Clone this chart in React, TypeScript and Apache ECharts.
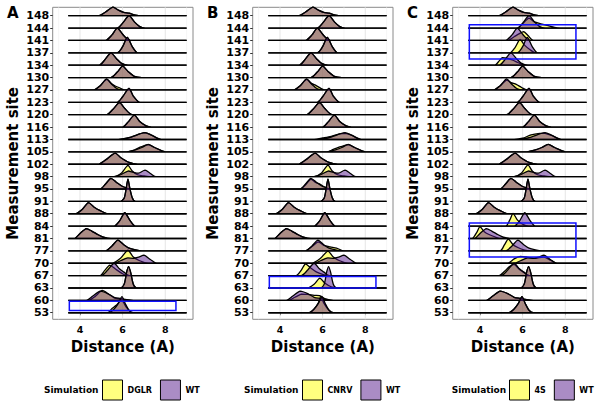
import React, { useEffect, useRef } from 'react';
import * as echarts from 'echarts';

// ---------- data ----------
const SITES = ['148','144','141','137','134','130','127','123','120','116','113','105','102','98','95','91','88','84','81','77','70','67','63','60','53'];
const PANELS = ['A', 'B', 'C'];
const MUTANTS = ['DGLR', 'CNRV', '4S'];
const DENSITY_RANGE = [3.45, 9.0];
const X_LIMITS = [2.72, 9.3];
const Y_LIMITS = [-0.53, 24.68];
const X_TICKS = [4, 6, 8];
const X_MINOR = [3, 5, 7, 9];

// density key points [distance, height in row units]
const WT: Record<string, number[][]> = {
  '148': [[4.9,0],[5.2,0.3],[5.55,0.7],[5.8,0.45],[6.05,0.27],[6.3,0.2],[6.6,0.05],[6.9,0]],
  '144': [[5.75,0],[6.0,0.4],[6.3,1.0],[6.55,0.5],[6.8,0.12],[7.05,0]],
  '141': [[5.2,0],[5.5,0.45],[5.75,1.0],[6.0,0.5],[6.25,0.08],[6.45,0]],
  '137': [[5.75,0],[6.0,0.5],[6.22,1.25],[6.45,0.5],[6.7,0]],
  '134': [[4.9,0],[5.15,0.4],[5.45,1.0],[5.7,0.55],[5.95,0.15],[6.25,0]],
  '130': [[5.45,0],[5.75,0.45],[6.0,0.92],[6.25,0.5],[6.55,0.1],[6.9,0]],
  '127': [[4.65,0],[4.95,0.35],[5.25,0.9],[5.5,0.45],[5.75,0.1],[6.0,0]],
  '123': [[5.75,0],[6.0,0.45],[6.3,1.13],[6.5,0.5],[6.8,0]],
  '120': [[5.25,0],[5.55,0.45],[5.85,0.97],[6.1,0.5],[6.45,0]],
  '116': [[6.0,0],[6.25,0.4],[6.55,0.97],[6.8,0.45],[7.1,0.1],[7.35,0]],
  '113': [[5.6,0],[6.0,0.05],[6.4,0.2],[6.8,0.45],[7.05,0.56],[7.35,0.35],[7.8,0]],
  '105': [[6.2,0],[6.6,0.15],[6.9,0.35],[7.2,0.6],[7.5,0.35],[8.0,0]],
  '102': [[4.85,0],[5.2,0.35],[5.65,0.9],[5.9,0.55],[6.3,0.15],[6.7,0]],
  '98':  [[5.6,0],[5.9,0.15],[6.25,0.45],[6.5,0.35],[6.75,0.28],[7.05,0.52],[7.3,0.25],[7.55,0]],
  '95':  [[4.95,0],[5.2,0.4],[5.45,0.86],[5.7,0.55],[6.0,0.2],[6.4,0]],
  '91':  [[5.9,0],[6.08,0.3],[6.18,1.2],[6.25,1.8],[6.32,1.2],[6.45,0.3],[6.6,0]],
  '88':  [[3.8,0],[4.1,0.35],[4.4,0.9],[4.65,0.55],[4.95,0.25],[5.3,0]],
  '84':  [[5.6,0],[5.85,0.4],[6.1,1.08],[6.35,0.45],[6.6,0]],
  '81':  [[3.75,0],[4.0,0.4],[4.3,0.8],[4.55,0.6],[4.85,0.3],[5.1,0.1],[5.45,0]],
  '77':  [[5.2,0],[5.5,0.4],[5.78,0.86],[6.05,0.5],[6.3,0.22],[6.6,0.08],[6.9,0]],
  '70':  [[5.6,0],[5.9,0.2],[6.2,0.42],[6.5,0.4],[6.75,0.5],[7.0,0.65],[7.3,0.3],[7.6,0]],
  '67':  [[5.0,0],[5.3,0.45],[5.6,1.0],[5.85,0.55],[6.05,0.3],[6.3,0]],
  '63':  [[5.9,0],[6.08,0.35],[6.19,1.3],[6.28,1.73],[6.37,1.3],[6.5,0.3],[6.65,0]],
  '60':  [[4.3,0],[4.6,0.35],[4.95,0.75],[5.3,0.55],[5.6,0.25],[5.9,0.15],[6.2,0.05],[6.5,0]],
  '53':  [[5.35,0],[5.6,0.3],[5.8,0.75],[5.97,1.3],[6.12,0.75],[6.3,0.2],[6.5,0]],
};

// mutant curves where they differ from WT (other sites coincide with WT)
const DGLR: Record<string, number[][]> = {
  '127': [[4.65,0],[4.95,0.35],[5.25,0.85],[5.45,0.55],[5.65,0.32],[5.85,0.18],[6.1,0]],
  '105': [[6.2,0],[6.55,0.15],[6.85,0.4],[7.2,0.58],[7.5,0.35],[8.0,0]],
  '98':  [[5.6,0],[5.95,0.3],[6.25,0.9],[6.45,0.45],[6.7,0.15],[7.0,0.05],[7.25,0]],
  '70':  [[5.5,0],[5.9,0.4],[6.25,1.05],[6.5,0.5],[6.8,0.2],[7.2,0]],
  '67':  [[4.95,0],[5.15,0.4],[5.4,0.85],[5.65,0.55],[5.95,0.2],[6.2,0]],
  '60':  [[4.4,0],[4.7,0.3],[5.05,0.8],[5.35,0.5],[5.6,0.2],[5.9,0.1],[6.2,0.03],[6.5,0]],
  '53':  [[5.3,0],[5.5,0.35],[5.7,0.6],[5.95,1.05],[6.15,0.5],[6.45,0]],
};
const CNRV: Record<string, number[][]> = {
  '127': [[4.65,0],[4.95,0.35],[5.25,0.85],[5.45,0.55],[5.7,0.35],[5.9,0.15],[6.1,0]],
  '113': [[5.6,0],[6.0,0.12],[6.4,0.25],[6.8,0.45],[7.05,0.5],[7.35,0.35],[7.8,0]],
  '105': [[6.2,0],[6.5,0.2],[6.85,0.42],[7.2,0.58],[7.5,0.35],[8.0,0]],
  '98':  [[5.6,0],[5.95,0.3],[6.25,0.92],[6.45,0.45],[6.7,0.15],[7.0,0.05],[7.25,0]],
  '95':  [[4.95,0],[5.2,0.35],[5.45,0.8],[5.65,0.55],[5.85,0.42],[6.05,0.2],[6.4,0]],
  '77':  [[5.2,0],[5.5,0.35],[5.8,0.72],[6.05,0.45],[6.35,0.32],[6.65,0.22],[7.0,0]],
  '70':  [[5.5,0],[5.9,0.4],[6.25,0.98],[6.5,0.5],[6.8,0.2],[7.2,0]],
  '67':  [[4.75,0],[5.0,0.45],[5.2,0.95],[5.45,0.6],[5.7,0.3],[6.0,0.1],[6.3,0]],
  '63':  [[5.3,0],[5.6,0.3],[5.87,0.8],[6.1,0.4],[6.4,0.1],[6.7,0]],
  '60':  [[4.4,0],[4.7,0.25],[5.0,0.5],[5.3,0.48],[5.6,0.4],[5.85,0.38],[6.1,0.15],[6.5,0]],
  '53':  [[5.4,0],[5.6,0.3],[5.8,0.8],[5.92,1.35],[6.05,0.8],[6.3,0.2],[6.5,0]],
};
const S4: Record<string, number[][]> = {
  '144': [[5.75,0],[6.0,0.35],[6.3,0.8],[6.55,0.5],[6.85,0.35],[7.15,0.22],[7.5,0.05],[7.75,0]],
  '141': [[5.3,0],[5.6,0.3],[5.85,0.55],[6.05,0.72],[6.25,0.4],[6.5,0]],
  '137': [[5.4,0],[5.65,0.45],[5.88,1.08],[6.1,0.6],[6.35,0.25],[6.6,0]],
  '134': [[4.7,0],[4.9,0.35],[5.05,0.62],[5.3,0.55],[5.55,0.4],[5.8,0.2],[6.1,0]],
  '127': [[4.65,0],[4.95,0.35],[5.25,0.8],[5.45,0.6],[5.7,0.45],[5.95,0.2],[6.2,0]],
  '113': [[5.6,0],[6.0,0.1],[6.4,0.38],[6.8,0.5],[7.05,0.5],[7.35,0.33],[7.8,0]],
  '98':  [[5.6,0],[5.95,0.3],[6.25,0.95],[6.45,0.45],[6.7,0.15],[7.0,0.05],[7.25,0]],
  '84':  [[5.2,0],[5.4,0.5],[5.55,1.03],[5.75,0.5],[6.0,0.15],[6.3,0]],
  '81':  [[3.65,0],[3.85,0.5],[4.0,0.95],[4.2,0.55],[4.45,0.3],[4.75,0.1],[5.0,0]],
  '77':  [[4.95,0],[5.15,0.5],[5.33,0.95],[5.55,0.5],[5.8,0.25],[6.1,0.05],[6.4,0]],
  '70':  [[5.3,0],[5.6,0.35],[5.9,0.55],[6.2,0.5],[6.6,0.4],[7.0,0.5],[7.3,0.25],[7.6,0]],
  '67':  [[4.9,0],[5.15,0.35],[5.4,0.75],[5.6,0.9],[5.85,0.5],[6.1,0.2],[6.3,0]],
};
const MUTANT_CURVES = [DGLR, CNRV, S4];

// highlighted regions: [panel, x0, x1, row0, row1]
const HIGHLIGHTS = [
  [0, 3.5, 8.5, 0.18, 0.93],
  [1, 3.5, 8.5, 2.0, 2.92],
  [2, 3.5, 8.5, 20.5, 23.27],
  [2, 3.5, 8.5, 4.5, 7.25],
];

// ---------- style / layout ----------
const FONT = '"DejaVu Sans", "Liberation Sans", sans-serif';
const YELLOW = 'rgba(255,255,0,0.5)';
const PURPLE = 'rgba(85,26,139,0.5)';
const GRID_LEFT = [52.7, 252.7, 452.7];
const GRID_TOP = 7.3;
const GRID_W = 140.3;
const GRID_H = 312;
const LEGEND_LEFT = [102, 302, 509];
const SIM_TEXT_X = [44, 244, 451.7];
const ROWS = SITES.map((_, i) => i);

function curveSeries(p: number, name: string, fill: string) {
  const lookup = (site: string) =>
    name === 'WT' ? WT[site] : (MUTANT_CURVES[p][site] ?? WT[site]);
  return {
    type: 'custom',
    name,
    xAxisIndex: p,
    yAxisIndex: p,
    silent: true,
    clip: false,
    z: 3,
    itemStyle: { color: fill, borderColor: '#000', borderWidth: 1 },
    data: SITES.map((_, i) => [SITES.length - 1 - i]),
    renderItem: (params: any, api: any) => {
      const row = api.value(0) as number;
      const kp = lookup(SITES[params.dataIndex]);
      const raw = [[DENSITY_RANGE[0], 0], ...kp, [DENSITY_RANGE[1], 0]];
      const pts = raw.map(([x, h]) => api.coord([x, row + h]));
      return {
        type: 'polygon',
        shape: { points: pts, smooth: 0.25, smoothConstraint: [pts[0], pts[0]] },
        style: { fill, stroke: '#000', lineWidth: 1.3 },
      };
    },
  };
}

function gridLineSeries(p: number) {
  return {
    type: 'custom',
    xAxisIndex: p,
    yAxisIndex: p,
    silent: true,
    z: 1,
    data: [...X_TICKS.map((x) => [x, 1]), ...X_MINOR.map((x) => [x, 0])],
    renderItem: (params: any, api: any) => {
      const x = api.value(0);
      const major = api.value(1) === 1;
      const a = api.coord([x, Y_LIMITS[0]]);
      const b = api.coord([x, Y_LIMITS[1]]);
      return {
        type: 'line',
        shape: { x1: a[0], y1: a[1], x2: b[0], y2: b[1] },
        style: { stroke: major ? '#e6e6e6' : '#f2f2f2', lineWidth: major ? 1 : 0.7 },
      };
    },
  };
}

function highlightSeries(p: number) {
  return {
    type: 'custom',
    xAxisIndex: p,
    yAxisIndex: p,
    silent: true,
    clip: false,
    z: 10,
    data: HIGHLIGHTS.filter((h) => h[0] === p).map((h) => [h[1], h[3], h[2], h[4]]),
    renderItem: (params: any, api: any) => {
      const a = api.coord([api.value(0), api.value(3)]);
      const b = api.coord([api.value(2), api.value(1)]);
      return {
        type: 'rect',
        shape: { x: a[0], y: a[1], width: b[0] - a[0], height: b[1] - a[1] },
        style: { fill: 'none', stroke: '#1010ff', lineWidth: 1.5 },
      };
    },
  };
}

function buildOption() {
  const bold = { fontWeight: 'bold', color: '#000', fontFamily: FONT };
  return {
    animation: false,
    textStyle: { fontFamily: FONT },
    title: PANELS.map((t, p) => ({
      text: t,
      left: 7 + 200 * p,
      top: 5,
      padding: 0,
      textStyle: { ...bold, fontSize: 15 },
    })),
    grid: PANELS.map((_, p) => ({
      left: GRID_LEFT[p],
      top: GRID_TOP,
      width: GRID_W,
      height: GRID_H,
      show: true,
      borderColor: '#8a8a8a',
      borderWidth: 1,
      backgroundColor: '#fff',
      containLabel: false,
      outerBoundsMode: 'none',
    })),
    xAxis: PANELS.map((_, p) => ({
      gridIndex: p,
      type: 'value',
      min: X_LIMITS[0],
      max: X_LIMITS[1],
      splitNumber: 3,
      minInterval: 2,
      maxInterval: 2,
      axisLine: { show: false },
      splitLine: { show: false },
      axisTick: { show: true, length: 2.5, lineStyle: { color: '#333' }, customValues: X_TICKS },
      axisLabel: {
        ...bold,
        fontSize: 9.5,
        margin: 5,
        customValues: X_TICKS,
        formatter: (v: number) => (Math.abs(v - Math.round(v)) < 1e-6 && Math.round(v) % 2 === 0 ? String(Math.round(v)) : ''),
      },
      name: 'Distance (A)',
      nameLocation: 'middle',
      nameGap: 20,
      nameTextStyle: { ...bold, fontSize: 15 },
    })),
    yAxis: PANELS.map((_, p) => ({
      gridIndex: p,
      type: 'value',
      min: Y_LIMITS[0],
      max: Y_LIMITS[1],
      splitNumber: 25,
      minInterval: 1,
      maxInterval: 1,
      axisLine: { show: false },
      splitLine: { show: false },
      axisTick: { show: true, length: 2.5, lineStyle: { color: '#333' }, customValues: ROWS },
      axisLabel: {
        ...bold,
        fontSize: 11,
        margin: 3.5,
        customValues: ROWS,
        formatter: (v: number) => {
          const i = Math.round(v);
          if (Math.abs(v - i) > 1e-6 || i < 0 || i >= SITES.length) return '';
          return SITES[SITES.length - 1 - i];
        },
      },
      name: 'Measurement site',
      nameLocation: 'middle',
      nameRotate: 90,
      nameGap: 32,
      nameTextStyle: { ...bold, fontSize: 15 },
    })),
    legend: PANELS.map((_, p) => ({
      left: LEGEND_LEFT[p],
      top: 379.5,
      padding: 0,
      orient: 'horizontal',
      itemWidth: 20,
      itemHeight: 20,
      itemGap: 8,
      icon: 'rect',
      selectedMode: false,
      itemStyle: { borderColor: '#000', borderWidth: 1 },
      textStyle: { ...bold, fontSize: 8 },
      data: [MUTANTS[p], 'WT'],
    })),
    graphic: PANELS.map((_, p) => ({
      type: 'text',
      x: SIM_TEXT_X[p],
      y: 390,
      silent: true,
      style: { text: 'Simulation', font: `bold 9px ${FONT}`, fill: '#000', verticalAlign: 'middle' },
    })),
    series: PANELS.flatMap((_, p) => [
      gridLineSeries(p),
      curveSeries(p, MUTANTS[p], YELLOW),
      curveSeries(p, 'WT', PURPLE),
      highlightSeries(p),
    ]),
  };
}

export default function App() {
  const ref = useRef<HTMLDivElement>(null);
  useEffect(() => {
    if (!ref.current) return;
    const chart = echarts.init(ref.current, null, { renderer: 'svg' });
    chart.setOption(buildOption() as any);
    return () => chart.dispose();
  }, []);
  return (
    <div
      ref={ref}
      style={{ position: 'fixed', left: 0, top: 0, width: 600, height: 407, background: '#fff' }}
    />
  );
}
